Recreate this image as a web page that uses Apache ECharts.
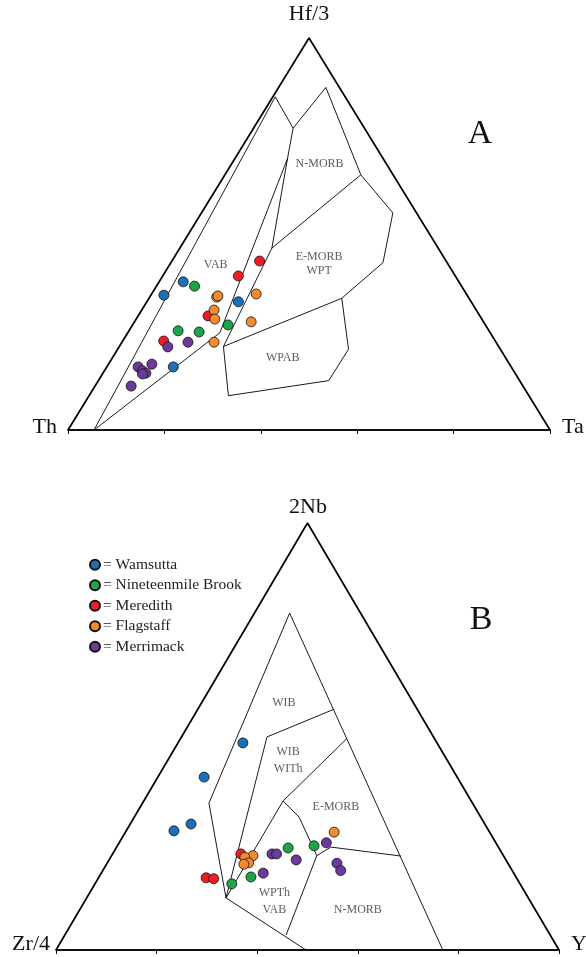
<!DOCTYPE html>
<html>
<head>
<meta charset="utf-8">
<script src="https://cdn.jsdelivr.net/npm/echarts/dist/echarts.min.js"></script>
<style>
  html, body { margin: 0; padding: 0; background: #fff; }
  #chart { width: 586px; height: 957px; }
</style>
</head>
<body>
<div id="chart"></div>
<script>
// Basalt suites
const groups = ['Wamsutta', 'Nineteenmile Brook', 'Meredith', 'Flagstaff', 'Merrimack'];
const groupColors = ['#1c70b9', '#20a44a', '#ec1d25', '#f48a2e', '#6b3b99'];

// Diagram A: Hf/3 - Th - Ta, each sample as [Hf/3, Th, Ta] in %
const hfThTa_wamsutta = [[34.4, 62.9, 2.7], [37.8, 57.2, 5.0], [32.7, 48.3, 19.0], [16.1, 70.1, 13.8]];
const hfThTa_nineteenmile = [[36.7, 55.4, 7.9], [25.3, 64.5, 10.2], [25.0, 60.3, 14.7], [26.8, 53.4, 19.8]];
const hfThTa_meredith = [[43.1, 38.7, 18.2], [39.3, 45.0, 15.7], [29.1, 56.4, 14.5], [22.7, 68.8, 8.5]];
const hfThTa_flagstaff = [[33.9, 52.2, 13.9], [34.2, 51.8, 14.0], [34.7, 43.6, 21.7], [30.6, 54.4, 15.0],
                          [28.3, 55.4, 16.3], [27.6, 48.2, 24.2], [22.4, 58.5, 19.1]];
const hfThTa_merrimack = [[21.2, 68.7, 10.1], [22.4, 63.9, 13.7], [16.8, 74.2, 9.0], [16.1, 77.4, 6.5],
                          [15.1, 77.0, 7.9], [14.5, 76.6, 8.9], [14.3, 77.4, 8.3], [11.2, 81.3, 7.5]];

// Diagram B: 2Nb - Zr/4 - Y, each sample as [2Nb, Zr/4, Y] in %
const nbZrY_wamsutta = [[48.5, 38.6, 12.9], [40.5, 50.3, 9.2], [29.5, 58.4, 12.1], [27.9, 62.6, 9.5]];
const nbZrY_nineteenmile = [[23.9, 41.9, 34.2], [24.4, 36.5, 39.1], [17.1, 52.7, 30.2], [15.5, 57.3, 27.2]];
const nbZrY_meredith = [[22.5, 52.0, 25.5], [16.9, 61.7, 21.4], [16.7, 60.3, 23.0]];
const nbZrY_flagstaff = [[27.6, 30.9, 41.5], [22.1, 49.8, 28.1], [21.7, 51.6, 26.7], [20.4, 51.5, 28.1], [20.1, 52.6, 27.3]];
const nbZrY_merrimack = [[25.1, 33.7, 41.2], [22.5, 45.8, 31.7], [22.5, 44.9, 32.6], [21.1, 41.7, 37.2],
                         [18.0, 49.8, 32.2], [20.3, 34.0, 45.7], [18.6, 34.1, 47.3]];

// Tectonic field boundaries, diagram A (ternary vertices)
const fieldLinesA = [
  [[0, 94.6, 5.4], [85, 14.5, 0.5]],
  [[0, 94.6, 5.4], [24.8, 56.1, 19.1], [69.3, 19.8, 10.9], [77.0, 14.8, 8.2], [85, 14.5, 0.5]],
  [[69.3, 19.8, 10.9], [46.4, 34.5, 19.1], [21.3, 57.1, 21.6]],
  [[77.0, 14.8, 8.2], [87.4, 2.8, 9.8], [65.1, 6.7, 28.2], [55.4, 4.9, 39.7], [42.7, 13.3, 44.0],
   [33.6, 26.4, 40.0], [20.6, 31.5, 47.9], [12.6, 39.6, 47.8], [8.75, 62.35, 28.9], [21.3, 57.1, 21.6],
   [33.6, 26.4, 40.0]],
  [[65.1, 6.7, 28.2], [46.4, 34.5, 19.1]]
];
const fieldNamesA = ['N-MORB', 'E-MORB\nWPT', 'VAB', 'WPAB'];
const fieldSpotsA = [[67.8, 13.9, 18.3], [42.4, 26.7, 30.9], [42.1, 48.3, 9.6], [18.5, 46.2, 35.3]];

// Tectonic field boundaries, diagram B (ternary vertices)
const fieldLinesB = [
  [[78.9, 14.1, 7.0], [34.4, 52.4, 13.2], [12.2, 60.1, 27.7], [0, 50.3, 49.7]],
  [[78.9, 14.1, 7.0], [0, 23.1, 76.9]],
  [[49.9, 33.1, 17.0], [56.4, 16.5, 27.1]],
  [[49.9, 33.1, 17.0], [12.2, 60.1, 27.7]],
  [[49.6, 17.3, 33.1], [34.9, 37.4, 27.7], [12.2, 60.1, 27.7]],
  [[34.9, 37.4, 27.7], [31.1, 36.1, 32.8], [22.1, 37.1, 40.8]],
  [[22.1, 37.1, 40.8], [24.1, 33.3, 42.6], [22.0, 20.4, 57.6]],
  [[22.1, 37.1, 40.8], [3.5, 52.5, 44.0]]
];
const fieldNamesB = ['WIB', 'WIB\nWITh', 'E-MORB', 'WPTh\nVAB', 'N-MORB'];
const fieldSpotsB = [[57.8, 25.8, 16.4], [44.3, 31.7, 24.0], [33.5, 27.6, 38.9], [11.4, 50.9, 37.7], [9.4, 35.3, 55.3]];

const outline = [[0, 100, 0], [100, 0, 0], [0, 0, 100], [0, 100, 0]];

const SERIF = '"Liberation Serif", "Times New Roman", serif';

// ternary [top, left, right] -> plane coordinates (base 0..100, height 0..100)
function tern(p) {
  const s = p[0] + p[1] + p[2];
  const top = p[0] / s * 100;
  const right = p[2] / s * 100;
  return [right + top / 2, top];
}

const samplesA = [hfThTa_wamsutta, hfThTa_nineteenmile, hfThTa_meredith, hfThTa_flagstaff, hfThTa_merrimack];
const samplesB = [nbZrY_wamsutta, nbZrY_nineteenmile, nbZrY_meredith, nbZrY_flagstaff, nbZrY_merrimack];

function diagramSeries(idx, lines, names, spots, samples, labelLineHeight) {
  const out = [];
  out.push({
    type: 'line', xAxisIndex: idx, yAxisIndex: idx, silent: true, clip: false,
    data: outline.map(tern), symbol: 'none',
    lineStyle: { color: '#000', width: 1.7 }, z: 3
  });
  lines.forEach(pl => out.push({
    type: 'line', xAxisIndex: idx, yAxisIndex: idx, silent: true, clip: false,
    data: pl.map(tern), symbol: 'none',
    lineStyle: { color: '#000', width: 0.9 }, z: 2
  }));
  out.push({
    type: 'scatter', xAxisIndex: idx, yAxisIndex: idx, silent: true,
    symbolSize: 1, itemStyle: { color: 'rgba(0,0,0,0)' },
    data: spots.map((p, i) => ({ value: tern(p), name: names[i] })),
    label: {
      show: true, position: 'inside', formatter: '{b}',
      fontFamily: SERIF, fontSize: 12, color: '#333', lineHeight: labelLineHeight
    },
    z: 4
  });
  samples.forEach((s, i) => out.push({
    type: 'scatter', name: groups[i], xAxisIndex: idx, yAxisIndex: idx,
    data: s.map(tern), symbol: 'circle', symbolSize: 10,
    itemStyle: { color: groupColors[i], borderColor: '#111', borderWidth: 0.8, opacity: 1 },
    z: 10
  }));
  return out;
}

const baseAxis = (grid) => ({
  type: 'value', gridIndex: grid, min: 0, max: 100, interval: 20,
  axisLine: { show: true, lineStyle: { color: '#000', width: 1.7 } },
  axisTick: { show: true, length: 4, inside: false, lineStyle: { color: '#000', width: 1 } },
  axisLabel: { show: false }, splitLine: { show: false }
});
const heightAxis = (grid) => ({
  type: 'value', gridIndex: grid, min: 0, max: 100, show: false
});

const chart = echarts.init(document.getElementById('chart'), null, { renderer: 'canvas' });

chart.setOption({
  animation: false,
  backgroundColor: '#fff',
  grid: [
    { left: 68, top: 38, width: 482, height: 392 },
    { left: 56, top: 523, width: 503, height: 427 }
  ],
  xAxis: [baseAxis(0), baseAxis(1)],
  yAxis: [heightAxis(0), heightAxis(1)],
  legend: {
    data: groups, orient: 'vertical', left: 84, top: 551,
    icon: 'circle', itemWidth: 10, itemHeight: 10, itemGap: 3,
    formatter: '= {name}',
    textStyle: { fontFamily: SERIF, fontSize: 15.5, color: '#222', lineHeight: 17.5, padding: [0, 0, 0, -2] }
  },
  graphic: [
    { type: 'text', x: 309, y: 14, style: { text: 'Hf/3', font: '22px ' + SERIF, fill: '#111', align: 'center', verticalAlign: 'middle' } },
    { type: 'text', x: 57, y: 427, style: { text: 'Th', font: '22px ' + SERIF, fill: '#111', align: 'right', verticalAlign: 'middle' } },
    { type: 'text', x: 562, y: 427, style: { text: 'Ta', font: '22px ' + SERIF, fill: '#111', align: 'left', verticalAlign: 'middle' } },
    { type: 'text', x: 480, y: 134, style: { text: 'A', font: '34px ' + SERIF, fill: '#111', align: 'center', verticalAlign: 'middle' } },
    { type: 'text', x: 308, y: 507, style: { text: '2Nb', font: '22px ' + SERIF, fill: '#111', align: 'center', verticalAlign: 'middle' } },
    { type: 'text', x: 50, y: 944, style: { text: 'Zr/4', font: '22px ' + SERIF, fill: '#111', align: 'right', verticalAlign: 'middle' } },
    { type: 'text', x: 571, y: 944, style: { text: 'Y', font: '22px ' + SERIF, fill: '#111', align: 'left', verticalAlign: 'middle' } },
    { type: 'text', x: 481, y: 620, style: { text: 'B', font: '34px ' + SERIF, fill: '#111', align: 'center', verticalAlign: 'middle' } }
  ],
  series: [].concat(
    diagramSeries(0, fieldLinesA, fieldNamesA, fieldSpotsA, samplesA, 14),
    diagramSeries(1, fieldLinesB, fieldNamesB, fieldSpotsB, samplesB, 17)
  )
});
</script>
</body>
</html>
